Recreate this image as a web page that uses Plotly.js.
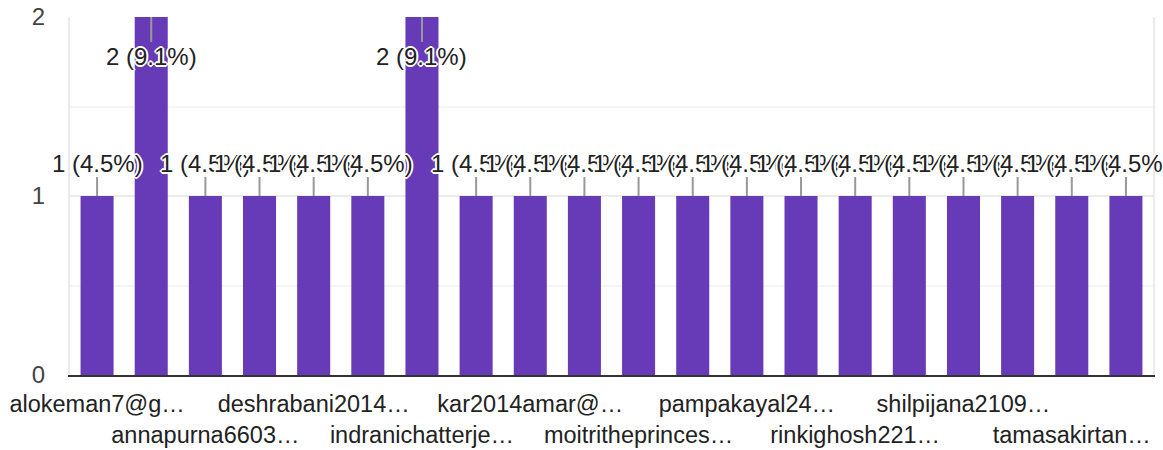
<!DOCTYPE html>
<html>
<head>
<meta charset="utf-8">
<script src="https://cdn.plot.ly/plotly-3.0.1.min.js"></script>
<style>html,body{margin:0;padding:0;background:#fff;}#chart{width:1163px;height:450px;}</style>
</head>
<body>
<div id="chart"></div>
<script>
// bar positions (one per respondent answer, in display order)
const barIndex = [0,1,2,3,4,5,6,7,8,9,10,11,12,13,14,15,16,17,18,19];
const counts   = [1,2,1,1,1,1,2,1,1,1,1,1,1,1,1,1,1,1,1,1];
// visible category labels (every other bar, as drawn; alternating two rows)
const tickIndex  = [0,2,4,6,8,10,12,14,16,18];
const tickLabels = ["alokeman7@g…","annapurna6603…","deshrabani2014…","indranichatterje…","kar2014amar@…",
                    "moitritheprinces…","pampakayal24…","rinkighosh221…","shilpijana2109…","tamasakirtan…"];
const yTicks = [0,1,2];

const total = counts.reduce((a,b)=>a+b,0);
const maxV = Math.max(...counts);
const halo = "2px 0 0 #fff, -2px 0 0 #fff, 0 2px 0 #fff, 0 -2px 0 #fff, 1px 1px 0 #fff, -1px -1px 0 #fff, 1px -1px 0 #fff, -1px 1px 0 #fff";
const FONT = 'Arial, "Liberation Sans", sans-serif';

const annotations = barIndex.map((x,i)=>({
  x: x, y: counts[i], xref:'x', yref:'y',
  text: counts[i] + " (" + (counts[i]/total*100).toFixed(1) + "%)",
  showarrow: true, arrowhead: 0, arrowwidth: 2, arrowcolor: '#999',
  ax: 0, ay: counts[i] === maxV ? 39 : -33,
  font: {family: FONT, size: 24, color: '#222', shadow: halo},
  borderpad: 0
}));

const row1Vals = tickIndex.filter((_,k)=>k%2===0);
const row1Text = tickLabels.filter((_,k)=>k%2===0);
const row2Vals = tickIndex.filter((_,k)=>k%2===1);
const row2Text = tickLabels.filter((_,k)=>k%2===1);

const trace = {
  type: 'bar', x: barIndex, y: counts,
  marker: {color: '#673ab7'},
  hoverinfo: 'none'
};
const row2Carrier = {type: 'scatter', x: [], y: [], xaxis: 'x2', yaxis: 'y', hoverinfo: 'none', showlegend: false};

const xCommon = {
  range: [-0.5, 19.5], tickangle: 0,
  tickfont: {family: FONT, size: 23.5, color: '#222'},
  showgrid: false, zeroline: false, ticks: ''
};

const layout = {
  width: 1163, height: 450,
  margin: {l: 70, r: 10, t: 17, b: 75},
  paper_bgcolor: '#fff', plot_bgcolor: '#fff',
  bargap: 0.39,
  showlegend: false,
  font: {family: FONT, color: '#222'},
  xaxis: Object.assign({}, xCommon, {
    tickmode: 'array', tickvals: row1Vals, ticktext: row1Text,
    showline: true, linecolor: '#333', linewidth: 2,
    ticklabelstandoff: 7
  }),
  xaxis2: Object.assign({}, xCommon, {
    overlaying: 'x', anchor: 'y', side: 'bottom',
    tickmode: 'array', tickvals: row2Vals, ticktext: row2Text,
    showline: false,
    ticklabelstandoff: 43
  }),
  yaxis: {
    range: [0, 2],
    tickmode: 'array', tickvals: yTicks, ticktext: yTicks.map(String),
    tickfont: {family: FONT, size: 24, color: '#444'},
    showgrid: true, gridcolor: '#ebebeb', gridwidth: 2,
    minor: {dtick: 0.5, tick0: 0, showgrid: true, gridcolor: '#f5f5f5', gridwidth: 2, ticks: ''},
    zeroline: false,
    showline: true, linecolor: '#ebebeb', linewidth: 2, mirror: true,
    ticks: '', ticklabelstandoff: 18
  },
  annotations: annotations
};

Plotly.newPlot('chart', [trace, row2Carrier], layout, {displayModeBar: false, staticPlot: true});
</script>
</body>
</html>
